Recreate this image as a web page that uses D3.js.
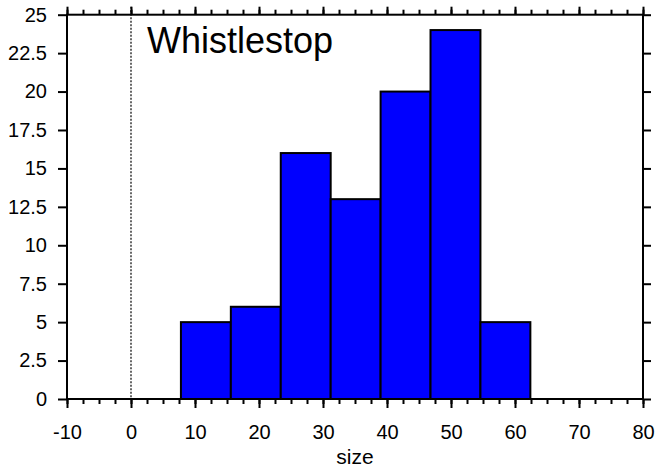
<!DOCTYPE html>
<html>
<head>
<meta charset="utf-8">
<script src="https://cdn.jsdelivr.net/npm/d3@7"></script>
<style>
  body { margin: 0; background: #fff; }
  text { font-family: "Liberation Sans", Arial, sans-serif; fill: #000; }
  .tick text { font-size: 20px; }
</style>
</head>
<body>
<svg id="chart" width="661" height="473"></svg>
<script>
// bin edges and counts for the histogram
var binEdges = [7.8, 15.6, 23.4, 31.2, 39.0, 46.8, 54.6, 62.4];
var counts = [5, 6, 16, 13, 20, 24, 5];
var xTicks = [-10, 0, 10, 20, 30, 40, 50, 60, 70, 80];
var yTicks = [0, 2.5, 5, 7.5, 10, 12.5, 15, 17.5, 20, 22.5, 25];
var title = "Whistlestop";
var xLabel = "size";

var margin = {top: 14.7, right: 18, bottom: 74, left: 67},
    width = 661 - margin.left - margin.right,
    height = 473 - margin.top - margin.bottom;

var svg = d3.select("#chart")
  .append("g")
  .attr("transform", "translate(" + margin.left + "," + margin.top + ")");

var x = d3.scaleLinear().domain([-10, 80]).range([0, width]);
var y = d3.scaleLinear().domain([0, 25]).range([height, 0]);

var bins = counts.map(function(c, i) {
  return {x0: binEdges[i], x1: binEdges[i + 1], n: c};
});

// bars
svg.selectAll("rect.bar")
  .data(bins)
  .enter()
  .append("rect")
  .attr("class", "bar")
  .attr("x", function(d) { return x(d.x0); })
  .attr("y", function(d) { return y(d.n); })
  .attr("width", function(d) { return x(d.x1) - x(d.x0); })
  .attr("height", function(d) { return y(0) - y(d.n); })
  .attr("fill", "#0000ff")
  .attr("stroke", "#000")
  .attr("stroke-width", 2);

// dotted line at x = 0
svg.append("line")
  .attr("x1", x(0)).attr("x2", x(0))
  .attr("y1", -8).attr("y2", height)
  .attr("stroke", "#000")
  .attr("stroke-width", 1.2)
  .attr("stroke-dasharray", "2,1.5");

var minorX = d3.range(-10, 80.01, 2.5);
var plain = function(d) { return String(d); };

function styleAxis(g) {
  g.attr("font-size", 20);
  g.select(".domain").remove();
  g.selectAll(".tick line").attr("stroke", "#000").attr("stroke-width", 2);
  g.selectAll(".tick text").attr("font-size", 20);
}

// bottom axis, minor then major
svg.append("g")
  .attr("transform", "translate(0," + height + ")")
  .call(d3.axisBottom(x).tickValues(minorX).tickSize(5).tickFormat(""))
  .call(styleAxis);
svg.append("g")
  .attr("transform", "translate(0," + height + ")")
  .call(d3.axisBottom(x).tickValues(xTicks).tickSize(9).tickPadding(17)
    .tickFormat(plain))
  .call(styleAxis);

// top axis
svg.append("g")
  .call(d3.axisTop(x).tickValues(minorX).tickSize(5).tickFormat(""))
  .call(styleAxis);
svg.append("g")
  .call(d3.axisTop(x).tickValues(xTicks).tickSize(8).tickFormat(""))
  .call(styleAxis);

// left and right axes
svg.append("g")
  .call(d3.axisLeft(y).tickValues(yTicks).tickSize(9).tickPadding(11)
    .tickFormat(plain))
  .call(styleAxis);
svg.append("g")
  .attr("transform", "translate(" + width + ",0)")
  .call(d3.axisRight(y).tickValues(yTicks).tickSize(8).tickFormat(""))
  .call(styleAxis);

// frame
svg.append("rect")
  .attr("width", width).attr("height", height)
  .attr("fill", "none")
  .attr("stroke", "#000")
  .attr("stroke-width", 2);

// title inside the plot
svg.append("text")
  .attr("x", x(2.5))
  .attr("y", 38)
  .style("font-size", "36px")
  .text(title);

// x axis label
svg.append("text")
  .attr("x", width / 2)
  .attr("y", height + 65)
  .attr("text-anchor", "middle")
  .style("font-size", "21px")
  .text(xLabel);
</script>
</body>
</html>
